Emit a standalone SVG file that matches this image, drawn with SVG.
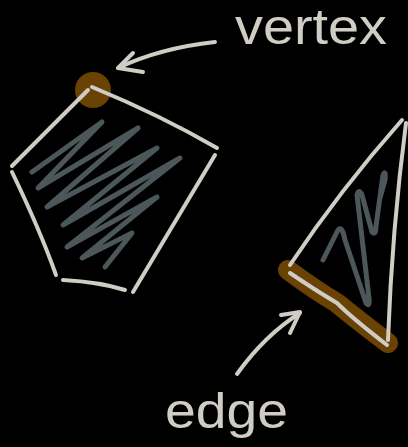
<svg xmlns="http://www.w3.org/2000/svg" width="408" height="447" viewBox="0 0 408 447">
<style>
.bg{fill:#000}
.ln{fill:none;stroke:#d0cdc5;stroke-width:4;stroke-linecap:round;stroke-linejoin:round}
.sc{fill:none;stroke:#4b5759;stroke-width:5;stroke-linecap:round;stroke-linejoin:round}
.hl{fill:none;stroke:#6a4204;stroke-width:20;stroke-linecap:round;stroke-linejoin:round}
.dot{fill:#6a4204}
.tx{fill:#d0cdc5;font-family:"Liberation Sans",Arial,sans-serif;font-size:50px}
</style>
<rect class="bg" x="0" y="0" width="408" height="447"/>
<g id="pentagon">
<circle class="dot" cx="93" cy="90" r="18"/>
<path class="sc" d="M32,172 L102,122 L38,188 L138,128 L47,207 L157,148 L63,225 L180,158 L67,247 L157,197 L82,258 L132,233 L105,267"/>
<path class="ln" d="M88,90 L12,166"/>
<path class="ln" d="M92,87 Q160,115 217,148"/>
<path class="ln" d="M12,172 Q40,230 56,275"/>
<path class="ln" d="M63,280 Q100,282 125,290"/>
<path class="ln" d="M215,155 Q170,230 133,292"/>
</g>
<g id="triangle">
<path class="hl" d="M288,270 Q315,290 337,303 Q355,318 388,343"/>
<path class="sc" d="M323,260 L338,230 Q342,225 345,240 L366,303 Q370,308 369,298 L357,195 Q359,188 362,195 L372,232 Q376,236 376,226 L383,175 Q386,169 385,180 L380,198"/>
<path class="ln" d="M402,120 Q340,190 290,265"/>
<path class="ln" d="M406,123 Q392,230 388,340"/>
<path class="ln" d="M290,273 Q315,290 337,303 Q352,318 387,345"/>
</g>
<g id="vertex-label">
<text class="tx" x="235" y="44" textLength="152" lengthAdjust="spacingAndGlyphs">vertex</text>
</g>
<g id="edge-label">
<text class="tx" x="165" y="428" textLength="123" lengthAdjust="spacingAndGlyphs">edge</text>
</g>
<g id="connectors">
<path class="ln" d="M215,42 Q160,48 118,68"/>
<path class="ln" d="M133,53 L118,68 L143,72"/>
<path class="ln" d="M237,374 Q265,335 300,313"/>
<path class="ln" d="M281,315 L300,312 L290,333"/>
</g>
</svg>
